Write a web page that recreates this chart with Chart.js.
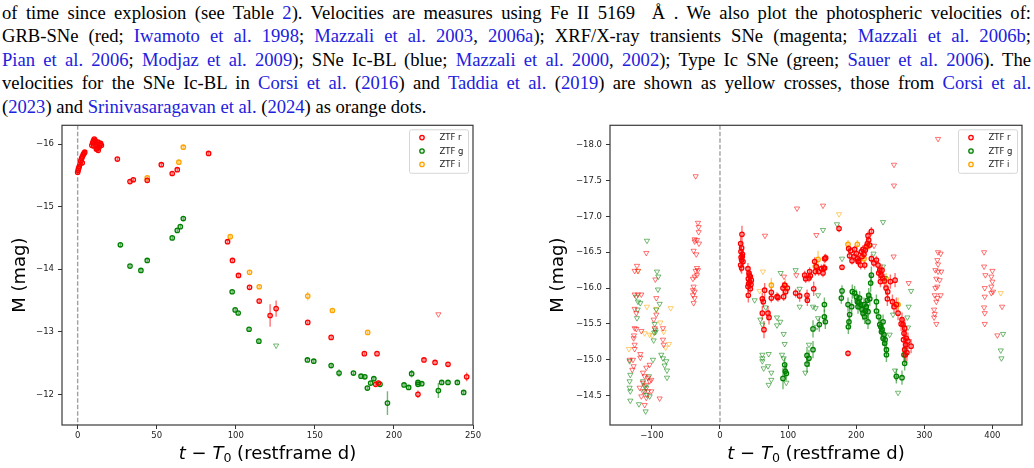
<!DOCTYPE html>
<html>
<head>
<meta charset="utf-8">
<script src="https://cdn.jsdelivr.net/npm/chart.js@4.4.1/dist/chart.umd.min.js"></script>
<style>
  html, body { margin: 0; padding: 0; background: #fff; }
  body { width: 1034px; height: 468px; position: relative; overflow: hidden; }
  #txt { position: absolute; left: 2px; top: 1px; width: 1029px;
         font-family: "Liberation Serif", "DejaVu Serif", serif; font-size: 18.6px; line-height: 23.4px; color: #000; }
  .ln { white-space: nowrap; text-align: justify; text-align-last: justify; }
  .ln.last { text-align-last: left; }
  .c { color: #2121dd; }
  canvas { position: absolute; }
  #left { left: 0; top: 120px; }
  #right { left: 520px; top: 120px; }
</style>
</head>
<body>
<div id="txt">
  <div class="ln">of time since explosion (see Table <span class="c">2</span>). Velocities are measures using Fe II 5169 &nbsp;Å . We also plot the photospheric velocities of:</div>
  <div class="ln">GRB-SNe (red; <span class="c">Iwamoto et al. 1998</span>; <span class="c">Mazzali et al. 2003</span>, <span class="c">2006a</span>); XRF/X-ray transients SNe (magenta; <span class="c">Mazzali et al. 2006b</span>;</div>
  <div class="ln"><span class="c">Pian et al. 2006</span>; <span class="c">Modjaz et al. 2009</span>); SNe Ic-BL (blue; <span class="c">Mazzali et al. 2000</span>, <span class="c">2002</span>); Type Ic SNe (green; <span class="c">Sauer et al. 2006</span>). The</div>
  <div class="ln">velocities for the SNe Ic-BL in <span class="c">Corsi et al.</span> (<span class="c">2016</span>) and <span class="c">Taddia et al.</span> (<span class="c">2019</span>) are shown as yellow crosses, those from <span class="c">Corsi et al.</span></div>
  <div class="ln last">(<span class="c">2023</span>) and <span class="c">Srinivasaragavan et al.</span> (<span class="c">2024</span>) as orange dots.</div>
</div>
<canvas id="left" width="500" height="348"></canvas>
<canvas id="right" width="514" height="348"></canvas>
<script>
// ---- left panel: [t - T0 (d), M (mag), error] ----
const leftR = [
  [0.0,-15.55,0.03],[0.3,-15.58,0.03],[0.6,-15.61,0.03],[1.0,-15.64,0.03],[1.5,-15.68,0.03],[2.0,-15.73,0.03],
  [2.5,-15.77,0.03],[2.9,-15.70,0.03],[3.0,-15.80,0.03],[3.5,-15.83,0.03],[4.0,-15.85,0.03],[4.5,-15.87,0.03],
  [9.0,-15.98,0.03],[9.5,-16.02,0.03],[10.0,-16.05,0.03],[10.5,-16.08,0.03],[11.0,-16.06,0.03],[11.5,-16.03,0.03],
  [12.0,-15.99,0.03],[12.5,-15.93,0.03],[13.0,-15.90,0.03],[13.5,-15.95,0.03],[14.0,-15.99,0.03],[14.5,-16.01,0.03],
  [15.0,-15.98,0.03],[10.2,-15.97,0.03],[12.8,-16.03,0.03],[11.8,-15.92,0.03],
  [25.1,-15.76,0.03],[33.1,-15.40,0.03],[35.2,-15.43,0.04],[44.0,-15.42,0.03],[52.9,-15.67,0.03],[59.8,-15.53,0.03],
  [63.0,-15.59,0.03],[82.8,-15.85,0.03],[94.8,-14.44,0.03],[97.9,-14.14,0.03],[101.7,-13.90,0.03],[108.7,-13.71,0.03],
  [114.8,-13.49,0.03],[121.7,-13.26,0.18],[125.5,-13.37,0.13],[145.5,-13.15,0.03],[160.3,-12.91,0.03],[181.3,-12.65,0.03],
  [189.3,-12.65,0.03],[188.5,-12.16,0.04],[190.2,-12.18,0.04],[215.2,-12.00,0.06],[219.0,-12.55,0.03],[226.0,-12.51,0.03],
  [234.2,-12.48,0.03],[246.0,-12.28,0.07]
];
const leftG = [
  [27.0,-14.39,0.03],[33.1,-14.05,0.03],[40.0,-13.98,0.03],[44.0,-14.14,0.03],[59.8,-14.50,0.03],[63.0,-14.62,0.03],
  [64.9,-14.68,0.03],[66.8,-14.81,0.03],[97.7,-13.64,0.03],[99.6,-13.35,0.03],[101.5,-13.30,0.03],[108.4,-13.04,0.03],
  [114.6,-12.85,0.03],[145.3,-12.55,0.03],[149.3,-12.53,0.03],[160.3,-12.46,0.03],[165.3,-12.34,0.06],[174.4,-12.34,0.03],
  [179.2,-12.29,0.03],[181.6,-12.28,0.03],[183.2,-12.10,0.03],[185.3,-12.18,0.03],[187.3,-12.25,0.04],[191.2,-12.16,0.03],
  [195.9,-11.86,0.19],[206.4,-12.15,0.03],[209.3,-12.11,0.03],[211.2,-12.33,0.06],[215.2,-12.19,0.03],[215.2,-12.16,0.03],
  [217.6,-12.17,0.03],[228.1,-12.06,0.12],[230.2,-12.19,0.03],[234.2,-12.19,0.03],[240.1,-12.19,0.04],[244.1,-12.03,0.04]
];
const leftI = [
  [44.0,-15.46,0.03],[64.0,-15.71,0.03],[66.8,-15.95,0.03],[96.5,-14.52,0.03],[108.7,-13.95,0.03],
  [114.8,-13.72,0.03],[145.5,-13.57,0.07],[161.1,-13.34,0.03],[183.4,-12.99,0.03]
];
const leftRLim = [[228.1,-13.28]];
const leftGLim = [[125.5,-12.78]];
const leftILim = [];

// ---- right panel ----
const rightR = [
  [32.3,-16.75,0.12],[30.4,-16.62,0.1],[31.8,-16.56,0.08],[30.8,-16.51,0.08],[32.8,-16.44,0.08],[31.8,-16.39,0.08],
  [33.8,-16.37,0.08],[30.4,-16.32,0.1],[31.8,-16.28,0.08],[33.0,-16.47,0.06],[31.0,-16.43,0.06],
  [41.1,-16.27,0.08],[42.6,-16.21,0.06],[44.6,-16.16,0.06],[41.6,-16.13,0.06],[43.6,-16.09,0.06],[45.5,-16.05,0.06],
  [41.1,-16.02,0.08],[44.6,-15.99,0.06],[41.6,-15.90,0.1],[46.0,-16.11,0.06],[43.0,-16.18,0.06],[42.0,-16.06,0.06],
  [62.2,-15.85,0.08],[65.6,-15.97,0.1],[63.6,-15.81,0.08],[62.2,-15.65,0.1],[70.5,-15.65,0.1],[72.0,-15.59,0.1],
  [64.6,-15.42,0.12],[75.4,-15.94,0.06],[75.4,-15.86,0.06],[83.7,-15.88,0.06],[85.2,-15.87,0.06],[92.5,-16.0,0.08],
  [93.5,-15.88,0.06],[96.5,-15.95,0.06],[95.0,-16.04,0.06],[98.9,-16.0,0.06],[111.1,-15.93,0.06],[117.0,-15.89,0.08],
  [124.4,-16.18,0.06],[125.8,-16.13,0.06],[127.8,-15.90,0.08],[128.3,-15.83,0.08],[131.7,-16.23,0.06],[132.7,-16.17,0.06],
  [130.7,-16.14,0.06],[137.6,-15.99,0.1],[139.0,-16.37,0.06],[140.0,-16.23,0.06],[141.5,-16.30,0.06],[144.9,-16.23,0.06],
  [148.9,-16.27,0.06],[152.3,-16.28,0.06],[155.2,-16.42,0.06],[151.3,-16.21,0.06],[153.7,-16.41,0.06],[153.7,-16.28,0.06],
  [174.8,-16.83,0.05],[179.2,-16.29,0.04],[188.0,-15.09,0.04],[189.0,-16.55,0.05],[191.9,-16.52,0.05],[190.4,-16.45,0.05],
  [193.9,-16.38,0.05],[197.8,-16.54,0.05],[200.2,-16.48,0.05],[201.7,-16.41,0.06],[203.7,-16.38,0.06],[207.6,-16.51,0.06],
  [210.0,-16.54,0.06],[208.6,-16.44,0.06],[211.5,-16.47,0.06],[213.5,-16.53,0.06],[214.9,-16.58,0.06],[216.4,-16.62,0.06],
  [218.4,-16.67,0.06],[217.4,-16.73,0.06],[222.3,-16.79,0.06],[202.7,-16.37,0.06],[196.8,-16.44,0.06],[206.6,-16.32,0.06],
  [212.5,-16.32,0.06],[219.8,-16.60,0.06],[222.3,-16.41,0.06],[229.7,-16.39,0.06],[232.1,-16.32,0.06],[234.6,-16.25,0.08],
  [233.1,-16.21,0.08],[236.6,-16.18,0.08],[239.0,-16.14,0.08],[235.6,-16.09,0.08],[241.4,-16.10,0.1],[243.9,-16.0,0.1],
  [246.3,-15.95,0.1],[250.2,-16.09,0.1],[257.1,-16.11,0.1],[253.2,-15.81,0.1],[255.6,-15.74,0.1],[259.0,-15.77,0.1],
  [261.5,-15.65,0.1],[267.3,-15.56,0.1],[268.7,-15.49,0.1],[271.2,-15.44,0.12],[270.2,-15.37,0.12],[273.6,-15.30,0.12],
  [272.7,-15.21,0.12],[280.6,-15.19,0.1],[271.2,-15.14,0.12],[272.2,-15.07,0.12],[276.0,-15.26,0.12],[245.8,-15.85,0.1],
  [226.0,-16.35,0.06],[238.0,-16.25,0.08],[266.0,-15.50,0.1],[269.5,-15.28,0.12],[274.5,-15.10,0.12]
];
const rightG = [
  [95.0,-14.93,0.1],[96.0,-14.84,0.1],[92.5,-14.74,0.15],[97.4,-14.81,0.1],[127.8,-15.06,0.12],[130.7,-15.02,0.12],
  [127.8,-14.94,0.12],[136.6,-15.14,0.12],[136.6,-15.43,0.12],[153.3,-15.77,0.1],[153.3,-15.60,0.1],[154.7,-15.53,0.1],
  [145.9,-15.49,0.1],[179.2,-15.96,0.08],[178.2,-15.86,0.08],[188.0,-15.77,0.1],[190.4,-15.63,0.1],[189.4,-15.53,0.1],
  [188.5,-15.46,0.1],[193.4,-15.74,0.1],[194.3,-15.95,0.1],[197.8,-15.93,0.1],[200.2,-15.88,0.1],[201.7,-15.81,0.1],
  [202.7,-15.74,0.1],[205.1,-15.86,0.1],[206.6,-15.77,0.1],[208.5,-15.70,0.1],[210.0,-15.65,0.1],[212.5,-15.60,0.1],
  [214.9,-15.74,0.1],[216.4,-15.83,0.1],[218.4,-15.90,0.1],[217.4,-15.67,0.1],[217.4,-15.53,0.1],[222.3,-16.18,0.12],
  [221.3,-16.07,0.12],[229.7,-15.81,0.1],[229.7,-15.68,0.1],[211.5,-15.77,0.1],[233.1,-15.60,0.1],[234.6,-15.49,0.1],
  [237.1,-15.39,0.1],[239.5,-15.30,0.1],[241.9,-15.23,0.1],[244.4,-15.14,0.1],[236.1,-15.46,0.1],[240.9,-15.35,0.1],
  [239.5,-15.53,0.1],[244.4,-15.07,0.1],[259.0,-14.77,0.1],[267.3,-14.75,0.1],[271.2,-14.95,0.1],[270.2,-15.07,0.1],
  [204.0,-15.80,0.1],[213.5,-15.68,0.1],[220.0,-15.85,0.1],[238.0,-15.42,0.1],[242.5,-15.28,0.1]
];
const rightI = [
  [75.4,-16.04,0.1],[96.0,-16.03,0.1],[144.0,-16.40,0.12],[140.0,-16.30,0.1],[188.0,-16.61,0.06],
  [201.7,-16.61,0.06],[217.4,-16.59,0.06],[211.5,-16.41,0.06],[243.9,-16.13,0.08],[261.5,-15.77,0.1]
];
const rightRLim = [
  [-121.9,-16.31],[-125.3,-16.24],[-120.4,-16.24],[-108.2,-16.49],[-94.9,-16.12],[-125.3,-15.91],[-120.4,-15.91],
  [-115.5,-15.91],[-93.5,-15.86],[-125.3,-15.71],[-122.9,-15.65],[-93.5,-15.63],[-97.4,-15.56],[-125.3,-15.44],
  [-122.9,-15.43],[-115.5,-15.40],[-95.9,-15.44],[-83.7,-15.44],[-126.3,-15.34],[-126.8,-15.30],[-83.7,-15.28],
  [-125.3,-15.21],[-125.3,-15.15],[-117.0,-15.08],[-117.0,-15.03],[-132.7,-15.0],[-127.8,-15.0],[-126.8,-14.91],
  [-128.8,-14.86],[-103.3,-14.93],[-108.2,-14.89],[-113.1,-14.82],[-110.6,-14.77],[-105.8,-14.75],[-100.9,-14.72],
  [-113.1,-14.68],[-108.2,-14.65],[-103.3,-14.70],[-118.0,-14.61],[-113.1,-14.56],[-105.8,-14.56],[-100.9,-14.56],
  [-115.5,-14.49],[-108.2,-14.47],[-88.6,-14.46],[-110.6,-14.37],[-82.7,-15.21],
  [-35.7,-17.56],[-32.3,-16.91],[-31.3,-16.85],[-31.3,-16.78],[-37.2,-16.68],[-33.8,-16.67],[-30.8,-16.62],
  [-37.2,-16.65],[-38.7,-16.52],[-34.8,-16.47],[-33.8,-16.28],[-35.7,-16.24],[-32.3,-16.25],[-33.8,-16.18],
  [-37.2,-16.16],[-39.7,-16.13],[-38.7,-16.02],[-39.7,-15.97],[-37.2,-15.95],[-39.7,-15.90],[-37.2,-15.86],[-38.7,-15.79],
  [113.1,-17.11],[151.3,-17.15],[66.1,-16.73],[141.5,-16.74],[94.0,-16.16],[112.1,-16.18],[255.5,-17.72],
  [255.5,-17.43],[255.0,-16.44],[277.1,-16.07],[226.2,-16.59],
  [320.2,-18.08],[320.2,-16.50],[324.1,-16.48],[319.2,-16.39],[320.2,-16.33],[316.3,-16.25],[320.2,-16.23],
  [325.0,-16.23],[317.7,-16.13],[322.6,-16.11],[319.2,-16.02],[316.3,-16.0],[324.1,-15.90],[315.3,-15.90],
  [319.2,-15.86],[317.7,-15.81],[314.4,-15.70],[315.3,-15.64],[314.4,-15.59],[317.7,-15.50],
  [387.8,-16.50],[387.8,-16.30],[389.7,-16.18],[400.0,-16.24],[398.5,-16.16],[400.0,-16.09],[398.5,-16.02],
  [401.0,-15.95],[398.5,-15.93],[388.8,-16.0],[388.8,-15.88],[387.8,-15.73],[388.8,-15.65],[388.8,-15.50],
  [414.2,-15.74],[407.3,-15.34]
];
const rightGLim = [
  [-107.2,-16.66],[-92.5,-16.23],[-90.6,-16.16],[-91.1,-15.98],[-122.9,-15.88],[-120.4,-15.81],[-117.0,-15.79],
  [-120.9,-15.70],[-121.9,-15.58],[-93.5,-15.70],[-88.6,-15.78],[-95.9,-15.50],[-94.5,-15.39],[-97.4,-15.27],
  [-98.4,-15.0],[-86.2,-15.07],[-83.7,-15.02],[-78.8,-14.98],[-81.3,-14.92],[-77.8,-14.85],[-77.8,-14.75],
  [-132.7,-14.98],[-131.7,-14.79],[-132.7,-14.70],[-132.7,-14.61],[-131.7,-14.56],[-131.7,-14.43],[-119.0,-14.38],
  [-109.2,-14.28],[-110.6,-14.63],[-108.2,-14.61],[-103.3,-14.49],[-113.1,-14.70],[-104.3,-14.77],[-110.6,-14.56],
  [-107.2,-14.51],[-95.0,-15.42],[-96.5,-15.38],
  [50.9,-15.83],[89.1,-16.21],[111.1,-16.25],[117.0,-15.99],[117.0,-15.74],[59.3,-15.56],[62.2,-15.49],[83.7,-15.59],
  [88.6,-15.53],[83.7,-15.48],[93.5,-15.36],[95.0,-15.22],[62.2,-15.07],[62.2,-15.02],[62.2,-14.98],[71.5,-15.08],
  [70.5,-14.91],[64.2,-14.88],[75.4,-14.82],[75.4,-14.72],[71.5,-14.65],[91.1,-15.07],[93.5,-15.02],[97.4,-14.68],
  [125.3,-14.82],[130.7,-15.21],[136.6,-15.74],[140.5,-15.72],[144.0,-15.58],[142.5,-15.46],[144.0,-15.90],
  [151.3,-16.81],[67.1,-15.73],
  [171.8,-16.89],[239.4,-16.92],[179.2,-16.41],[225.5,-16.48],[239.4,-16.30],[280.6,-15.96],[277.1,-15.74],
  [275.2,-15.59],[276.1,-15.45],[254.1,-15.63],[259.0,-14.75],[261.5,-14.54],[257.1,-14.85],[249.2,-15.35],[241.9,-16.14],
  [415.7,-15.36],[412.3,-15.13],[413.3,-15.02]
];
const rightILim = [
  [-120.4,-16.24],[-107.2,-15.74],[-93.5,-15.71],[-72.4,-15.72],[-87.6,-15.52],[-82.7,-15.39],[-103.3,-15.35],
  [-99.4,-15.34],[-110.6,-15.37],[-133.7,-15.15],[-79.8,-15.17],[-74.8,-15.22],[63.1,-16.23],[58.3,-15.96],
  [174.8,-17.03],[412.3,-15.93]
];

// tick labels
const leftXTicks = [0, 50, 100, 150, 200, 250];
const leftYTicks = [-16, -15, -14, -13, -12];
const rightXTicks = [-100, 0, 100, 200, 300, 400];
const rightYTicks = [-18.0, -17.5, -17.0, -16.5, -16.0, -15.5, -15.0, -14.5];
const bandNames = ['ZTF r', 'ZTF g', 'ZTF i'];
const bandRGB = ['255,0,0', '0,128,0', '255,165,0'];
// x-axis label pieces: [text, style]  (i = italic, s = subscript)
const xLabelParts = [['t', 'i'], [' \u2212 ', ''], ['T', 'i'], ['0', 's'], [' (restframe d)', '']];

Chart.defaults.font.family = '"DejaVu Sans", sans-serif';

function detSet(label, arr, rgb) {
  return {
    label,
    data: arr.map(p => ({ x: p[0], y: p[1] })),
    errs: arr.map(p => p[2]),
    errColor: `rgba(${rgb},0.55)`,
    pointStyle: 'circle',
    pointRadius: 2.2,
    pointBorderWidth: 1.3,
    pointBorderColor: `rgb(${rgb})`,
    pointBackgroundColor: `rgba(${rgb},0.12)`
  };
}

function limSet(label, arr, rgb) {
  return {
    label,
    data: arr.map(p => ({ x: p[0], y: p[1] })),
    pointStyle: 'triangle',
    pointRotation: 180,
    pointRadius: 3,
    pointBorderWidth: 1,
    pointBorderColor: `rgba(${rgb},0.55)`,
    pointBackgroundColor: 'rgba(255,255,255,0)'
  };
}

const panelDecor = {
  id: 'panelDecor',
  beforeDatasetsDraw(chart) {
    const { ctx, chartArea: a, scales: { x, y } } = chart;
    ctx.save();
    ctx.beginPath();
    ctx.rect(a.left, a.top, a.width, a.height);
    ctx.clip();
    // dashed line at explosion time
    const x0 = x.getPixelForValue(0);
    ctx.strokeStyle = 'rgba(128,128,128,0.75)';
    ctx.lineWidth = 1.4;
    ctx.setLineDash([4.5, 2]);
    ctx.beginPath();
    ctx.moveTo(x0, a.top);
    ctx.lineTo(x0, a.bottom);
    ctx.stroke();
    ctx.setLineDash([]);
    // error bars
    chart.data.datasets.forEach(ds => {
      if (!ds.errs) return;
      ctx.strokeStyle = ds.errColor;
      ctx.lineWidth = 1.4;
      ds.data.forEach((p, j) => {
        const e = ds.errs[j];
        const px = x.getPixelForValue(p.x);
        ctx.beginPath();
        ctx.moveTo(px, y.getPixelForValue(p.y - e));
        ctx.lineTo(px, y.getPixelForValue(p.y + e));
        ctx.stroke();
      });
    });
    ctx.restore();
  },
  afterDraw(chart) {
    const { ctx, chartArea: a } = chart;
    ctx.save();
    ctx.strokeStyle = '#3a3a3a';
    ctx.lineWidth = 1.2;
    ctx.strokeRect(a.left, a.top, a.width, a.height);

    // x-axis label with math italics
    const fonts = {
      '': '18px "DejaVu Sans"',
      i: 'italic 18px "DejaVu Sans"',
      s: '12.6px "DejaVu Sans"'
    };
    let total = 0;
    xLabelParts.forEach(([t, st]) => { ctx.font = fonts[st]; total += ctx.measureText(t).width; });
    let tx = (a.left + a.right) / 2 - total / 2;
    const ty = chart.height - 9;
    ctx.fillStyle = '#000';
    ctx.textBaseline = 'alphabetic';
    xLabelParts.forEach(([t, st]) => {
      ctx.font = fonts[st];
      ctx.fillText(t, tx, st === 's' ? ty + 3 : ty);
      tx += ctx.measureText(t).width;
    });

    // legend box, top right inside the axes
    const w = 59, h = 43.5;
    const bx = a.right - 4.5 - w, by = a.top + 4.5;
    ctx.fillStyle = 'rgba(255,255,255,0.85)';
    ctx.strokeStyle = '#d6d6d6';
    ctx.lineWidth = 1;
    ctx.beginPath();
    ctx.roundRect(bx, by, w, h, 2);
    ctx.fill();
    ctx.stroke();
    ctx.font = '8.5px "DejaVu Sans"';
    ctx.textBaseline = 'middle';
    bandNames.forEach((name, k) => {
      const cy = by + 7.8 + k * 13.4;
      ctx.beginPath();
      ctx.arc(bx + 12.5, cy, 2.2, 0, Math.PI * 2);
      ctx.fillStyle = `rgba(${bandRGB[k]},0.12)`;
      ctx.fill();
      ctx.lineWidth = 1.3;
      ctx.strokeStyle = `rgb(${bandRGB[k]})`;
      ctx.stroke();
      ctx.fillStyle = '#222';
      ctx.fillText(name, bx + 30, cy + 0.5);
    });
    ctx.restore();
  }
};

function minusFmt(v, decimals) {
  return (v < 0 ? '\u2212' : '') + Math.abs(v).toFixed(decimals);
}

function makePanel(id, sets, cfg) {
  const datasets = [];
  sets.forEach((s, k) => {
    datasets.push(limSet(bandNames[k] + ' limit', s.lim, bandRGB[k]));
    datasets.push(detSet(bandNames[k], s.det, bandRGB[k]));
  });
  return new Chart(document.getElementById(id), {
    type: 'scatter',
    data: { datasets },
    plugins: [panelDecor],
    options: {
      responsive: false,
      animation: false,
      layout: { padding: { top: 5, right: cfg.padRight, left: 0, bottom: 0 } },
      plugins: { legend: { display: false }, tooltip: { enabled: false } },
      scales: {
        x: {
          type: 'linear',
          min: cfg.xMin,
          max: cfg.xMax,
          afterBuildTicks: s => { s.ticks = cfg.xTicks.map(v => ({ value: v })); },
          afterFit: s => { s.height = 43; s.paddingLeft = 0; s.paddingRight = 0; },
          ticks: { autoSkip: false, maxRotation: 0, padding: 2, color: '#222', font: { size: 8.5 }, callback: v => minusFmt(v, 0) },
          grid: { drawOnChartArea: false, tickLength: 4, color: '#333', lineWidth: 1 },
          border: { display: false },
          title: { display: false }
        },
        y: {
          type: 'linear',
          reverse: true,
          min: cfg.yMin,
          max: cfg.yMax,
          afterBuildTicks: s => { s.ticks = cfg.yTicks.map(v => ({ value: v })); },
          afterFit: s => { s.width = cfg.yWidth; s.paddingTop = 0; s.paddingBottom = 0; },
          ticks: { autoSkip: false, padding: 4, color: '#222', font: { size: 8.5 }, callback: v => minusFmt(v, cfg.decimals) },
          grid: { drawOnChartArea: false, tickLength: 4, color: '#333', lineWidth: 1 },
          border: { display: false },
          title: { display: true, text: 'M (mag)', color: '#000', font: { size: 18 }, padding: { top: cfg.yTitlePad, bottom: 0 } }
        }
      }
    }
  });
}

makePanel('left', [
  { det: leftR, lim: leftRLim },
  { det: leftG, lim: leftGLim },
  { det: leftI, lim: leftILim }
], {
  xMin: -9.9, xMax: 250, yMin: -16.30, yMax: -11.51,
  xTicks: leftXTicks, yTicks: leftYTicks,
  yWidth: 62, padRight: 27, yTitlePad: 10, decimals: 0
});

makePanel('right', [
  { det: rightR, lim: rightRLim },
  { det: rightG, lim: rightGLim },
  { det: rightI, lim: rightILim }
], {
  xMin: -161.5, xMax: 443.5, yMin: -18.27, yMax: -14.09,
  xTicks: rightXTicks, yTicks: rightYTicks,
  yWidth: 90, padRight: 12, yTitlePad: 28, decimals: 1
});
</script>
</body>
</html>
